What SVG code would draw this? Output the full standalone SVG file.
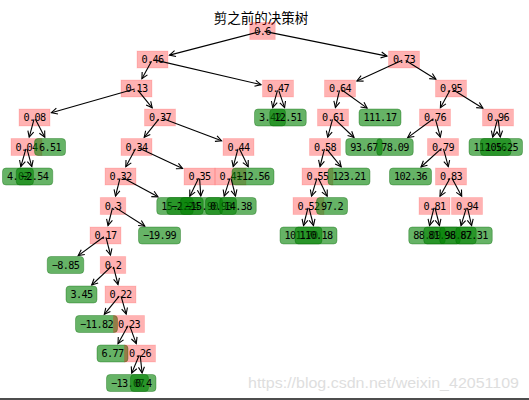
<svg xmlns="http://www.w3.org/2000/svg" width="529" height="400" viewBox="0 0 529 400">
<style>
.d rect{fill:#ff0000;fill-opacity:0.3;stroke:#ff0000;stroke-opacity:0.12;stroke-width:1}
.l rect{fill:#008000;fill-opacity:0.6;stroke:#006400;stroke-opacity:0.35;stroke-width:1}
text.t{font-family:"DejaVu Sans Mono","Liberation Mono",monospace;font-size:10.2px;letter-spacing:-0.6px;fill:#000;text-anchor:middle}
#edges line{stroke:#000;stroke-width:1.1;marker-end:url(#ah)}
</style>
<defs>
<marker id="ah" markerUnits="userSpaceOnUse" orient="auto" refX="0" refY="0" markerWidth="10" markerHeight="10" overflow="visible">
<path d="M-6,-3 L0,0 L-6,3" fill="none" stroke="#000" stroke-width="1.1"/>
</marker>
</defs>
<rect width="529" height="400" fill="#fff"/>
<text id="title" x="261" y="22.5" font-family="'Noto Sans CJK SC',sans-serif" font-size="13.5" text-anchor="middle" fill="#000">剪之前的决策树</text>
<g id="nodes">
<g id="n0" class="d" transform="translate(262.5,31)"><rect x="-12.75" y="-8.5" width="25.5" height="17"/><text class="t" y="3.6">0.6</text></g>
<g id="n1" class="d" transform="translate(152.5,59.5)"><rect x="-15.5" y="-8.5" width="31" height="17"/><text class="t" y="3.6">0.46</text></g>
<g id="n2" class="d" transform="translate(136.5,88.5)"><rect x="-15.5" y="-8.5" width="31" height="17"/><text class="t" y="3.6">0.13</text></g>
<g id="n3" class="d" transform="translate(34.5,117.5)"><rect x="-15.5" y="-8.5" width="31" height="17"/><text class="t" y="3.6">0.08</text></g>
<g id="n4" class="d" transform="translate(26.5,147)"><rect x="-15.5" y="-8.5" width="31" height="17"/><text class="t" y="3.6">0.04</text></g>
<g id="L1" class="l" transform="translate(18,176.5)"><rect x="-15.5" y="-8.5" width="31" height="17" rx="3.5"/><text class="t" y="3.6">4.02</text></g>
<g id="L2" class="l" transform="translate(34.5,176.5)"><rect x="-18.25" y="-8.5" width="36.5" height="17" rx="3.5"/><text class="t" y="3.6">−2.54</text></g>
<g id="L3" class="l" transform="translate(50,147)"><rect x="-15.5" y="-8.5" width="31" height="17" rx="3.5"/><text class="t" y="3.6">6.51</text></g>
<g id="n5" class="d" transform="translate(160,117.5)"><rect x="-15.5" y="-8.5" width="31" height="17"/><text class="t" y="3.6">0.37</text></g>
<g id="n6" class="d" transform="translate(136.5,147)"><rect x="-15.5" y="-8.5" width="31" height="17"/><text class="t" y="3.6">0.34</text></g>
<g id="n7" class="d" transform="translate(120.5,176.5)"><rect x="-15.5" y="-8.5" width="31" height="17"/><text class="t" y="3.6">0.32</text></g>
<g id="n8" class="d" transform="translate(113,206)"><rect x="-12.75" y="-8.5" width="25.5" height="17"/><text class="t" y="3.6">0.3</text></g>
<g id="n9" class="d" transform="translate(105.5,235.5)"><rect x="-15.5" y="-8.5" width="31" height="17"/><text class="t" y="3.6">0.17</text></g>
<g id="L4" class="l" transform="translate(65.5,265)"><rect x="-18.25" y="-8.5" width="36.5" height="17" rx="3.5"/><text class="t" y="3.6">−8.85</text></g>
<g id="n10" class="d" transform="translate(113,265)"><rect x="-12.75" y="-8.5" width="25.5" height="17"/><text class="t" y="3.6">0.2</text></g>
<g id="L5" class="l" transform="translate(81.5,294.5)"><rect x="-15.5" y="-8.5" width="31" height="17" rx="3.5"/><text class="t" y="3.6">3.45</text></g>
<g id="n11" class="d" transform="translate(120.5,294.5)"><rect x="-15.5" y="-8.5" width="31" height="17"/><text class="t" y="3.6">0.22</text></g>
<g id="L6" class="l" transform="translate(96.5,324)"><rect x="-21" y="-8.5" width="42" height="17" rx="3.5"/><text class="t" y="3.6">−11.82</text></g>
<g id="n12" class="d" transform="translate(129,324)"><rect x="-15.5" y="-8.5" width="31" height="17"/><text class="t" y="3.6">0.23</text></g>
<g id="L7" class="l" transform="translate(112.5,353.5)"><rect x="-15.5" y="-8.5" width="31" height="17" rx="3.5"/><text class="t" y="3.6">6.77</text></g>
<g id="n13" class="d" transform="translate(140,353.5)"><rect x="-15.5" y="-8.5" width="31" height="17"/><text class="t" y="3.6">0.26</text></g>
<g id="L8" class="l" transform="translate(127.5,383)"><rect x="-21" y="-8.5" width="42" height="17" rx="3.5"/><text class="t" y="3.6">−13.07</text></g>
<g id="L9" class="l" transform="translate(143.25,383)"><rect x="-12.75" y="-8.5" width="25.5" height="17" rx="3.5"/><text class="t" y="3.6">0.4</text></g>
<g id="L10" class="l" transform="translate(159.5,235.5)"><rect x="-21" y="-8.5" width="42" height="17" rx="3.5"/><text class="t" y="3.6">−19.99</text></g>
<g id="L11" class="l" transform="translate(175,206)"><rect x="-18.25" y="-8.5" width="36.5" height="17" rx="3.5"/><text class="t" y="3.6">15.12</text></g>
<g id="n14" class="d" transform="translate(199.5,176.5)"><rect x="-15.5" y="-8.5" width="31" height="17"/><text class="t" y="3.6">0.35</text></g>
<g id="L12" class="l" transform="translate(185,206)"><rect x="-18.25" y="-8.5" width="36.5" height="17" rx="3.5"/><text class="t" y="3.6">−2.24</text></g>
<g id="L13" class="l" transform="translate(201.5,206)"><rect x="-21" y="-8.5" width="42" height="17" rx="3.5"/><text class="t" y="3.6">−15.90</text></g>
<g id="n15" class="d" transform="translate(238.5,147)"><rect x="-15.5" y="-8.5" width="31" height="17"/><text class="t" y="3.6">0.44</text></g>
<g id="n16" class="d" transform="translate(230.5,176.5)"><rect x="-15.5" y="-8.5" width="31" height="17"/><text class="t" y="3.6">0.41</text></g>
<g id="L14" class="l" transform="translate(221,206)"><rect x="-15.5" y="-8.5" width="31" height="17" rx="3.5"/><text class="t" y="3.6">0.93</text></g>
<g id="L15" class="l" transform="translate(238,206)"><rect x="-18.25" y="-8.5" width="36.5" height="17" rx="3.5"/><text class="t" y="3.6">14.38</text></g>
<g id="L16" class="l" transform="translate(253,176.5)"><rect x="-21" y="-8.5" width="42" height="17" rx="3.5"/><text class="t" y="3.6">−12.56</text></g>
<g id="n17" class="d" transform="translate(278,88.5)"><rect x="-15.5" y="-8.5" width="31" height="17"/><text class="t" y="3.6">0.47</text></g>
<g id="L17" class="l" transform="translate(270,117.5)"><rect x="-15.5" y="-8.5" width="31" height="17" rx="3.5"/><text class="t" y="3.6">3.42</text></g>
<g id="L18" class="l" transform="translate(288,117.5)"><rect x="-18.25" y="-8.5" width="36.5" height="17" rx="3.5"/><text class="t" y="3.6">12.51</text></g>
<g id="n18" class="d" transform="translate(404,59.5)"><rect x="-15.5" y="-8.5" width="31" height="17"/><text class="t" y="3.6">0.73</text></g>
<g id="n19" class="d" transform="translate(340,88.5)"><rect x="-15.5" y="-8.5" width="31" height="17"/><text class="t" y="3.6">0.64</text></g>
<g id="n20" class="d" transform="translate(333,117.5)"><rect x="-15.5" y="-8.5" width="31" height="17"/><text class="t" y="3.6">0.61</text></g>
<g id="n21" class="d" transform="translate(325,147)"><rect x="-15.5" y="-8.5" width="31" height="17"/><text class="t" y="3.6">0.58</text></g>
<g id="n22" class="d" transform="translate(317.5,176.5)"><rect x="-15.5" y="-8.5" width="31" height="17"/><text class="t" y="3.6">0.55</text></g>
<g id="n23" class="d" transform="translate(308.5,206)"><rect x="-15.5" y="-8.5" width="31" height="17"/><text class="t" y="3.6">0.52</text></g>
<g id="L19" class="l" transform="translate(301,235.5)"><rect x="-21" y="-8.5" width="42" height="17" rx="3.5"/><text class="t" y="3.6">101.70</text></g>
<g id="L20" class="l" transform="translate(316,235.5)"><rect x="-21" y="-8.5" width="42" height="17" rx="3.5"/><text class="t" y="3.6">110.18</text></g>
<g id="L21" class="l" transform="translate(332,206)"><rect x="-15.5" y="-8.5" width="31" height="17" rx="3.5"/><text class="t" y="3.6">97.2</text></g>
<g id="L22" class="l" transform="translate(349,176.5)"><rect x="-21" y="-8.5" width="42" height="17" rx="3.5"/><text class="t" y="3.6">123.21</text></g>
<g id="L23" class="l" transform="translate(364,147)"><rect x="-18.25" y="-8.5" width="36.5" height="17" rx="3.5"/><text class="t" y="3.6">93.67</text></g>
<g id="L24" class="l" transform="translate(380,117.5)"><rect x="-21" y="-8.5" width="42" height="17" rx="3.5"/><text class="t" y="3.6">111.17</text></g>
<g id="n24" class="d" transform="translate(451,88.5)"><rect x="-15.5" y="-8.5" width="31" height="17"/><text class="t" y="3.6">0.95</text></g>
<g id="n25" class="d" transform="translate(435,117.5)"><rect x="-15.5" y="-8.5" width="31" height="17"/><text class="t" y="3.6">0.76</text></g>
<g id="L25" class="l" transform="translate(395,147)"><rect x="-18.25" y="-8.5" width="36.5" height="17" rx="3.5"/><text class="t" y="3.6">78.09</text></g>
<g id="n26" class="d" transform="translate(443,147)"><rect x="-15.5" y="-8.5" width="31" height="17"/><text class="t" y="3.6">0.79</text></g>
<g id="L26" class="l" transform="translate(410.5,176.5)"><rect x="-21" y="-8.5" width="42" height="17" rx="3.5"/><text class="t" y="3.6">102.36</text></g>
<g id="n27" class="d" transform="translate(451,176.5)"><rect x="-15.5" y="-8.5" width="31" height="17"/><text class="t" y="3.6">0.83</text></g>
<g id="n28" class="d" transform="translate(434.5,206)"><rect x="-15.5" y="-8.5" width="31" height="17"/><text class="t" y="3.6">0.81</text></g>
<g id="L27" class="l" transform="translate(427,235.5)"><rect x="-18.25" y="-8.5" width="36.5" height="17" rx="3.5"/><text class="t" y="3.6">88.09</text></g>
<g id="L28" class="l" transform="translate(442,235.5)"><rect x="-18.25" y="-8.5" width="36.5" height="17" rx="3.5"/><text class="t" y="3.6">81.96</text></g>
<g id="n29" class="d" transform="translate(467,206)"><rect x="-15.5" y="-8.5" width="31" height="17"/><text class="t" y="3.6">0.94</text></g>
<g id="L29" class="l" transform="translate(458,235.5)"><rect x="-18.25" y="-8.5" width="36.5" height="17" rx="3.5"/><text class="t" y="3.6">98.62</text></g>
<g id="L30" class="l" transform="translate(474,235.5)"><rect x="-18.25" y="-8.5" width="36.5" height="17" rx="3.5"/><text class="t" y="3.6">87.31</text></g>
<g id="n30" class="d" transform="translate(498,117.5)"><rect x="-15.5" y="-8.5" width="31" height="17"/><text class="t" y="3.6">0.96</text></g>
<g id="L31" class="l" transform="translate(490,147)"><rect x="-21" y="-8.5" width="42" height="17" rx="3.5"/><text class="t" y="3.6">112.16</text></g>
<g id="L32" class="l" transform="translate(501.5,147)"><rect x="-21" y="-8.5" width="42" height="17" rx="3.5"/><text class="t" y="3.6">105.25</text></g>
</g>
<g id="edges">
<line x1="260.6" y1="31.5" x2="169.5" y2="55.1"/>
<line x1="264.5" y1="31.4" x2="387" y2="56.1"/>
<line x1="151.5" y1="61.3" x2="141.9" y2="78.7"/>
<line x1="154.4" y1="59.9" x2="261" y2="84.6"/>
<line x1="134.6" y1="89" x2="51.4" y2="112.7"/>
<line x1="137.8" y1="90.1" x2="152.2" y2="107.8"/>
<line x1="277.5" y1="90.4" x2="272.7" y2="107.6"/>
<line x1="278.7" y1="90.4" x2="284.6" y2="107.6"/>
<line x1="34" y1="119.4" x2="29.2" y2="137.1"/>
<line x1="35.4" y1="119.3" x2="44.8" y2="137.2"/>
<line x1="25.9" y1="148.9" x2="20.8" y2="166.6"/>
<line x1="27" y1="148.9" x2="31.8" y2="166.6"/>
<line x1="158.8" y1="119.1" x2="144.2" y2="137.3"/>
<line x1="161.9" y1="118.2" x2="221.6" y2="140.7"/>
<line x1="135.5" y1="148.8" x2="125.8" y2="166.7"/>
<line x1="138.3" y1="147.8" x2="182.6" y2="168.6"/>
<line x1="120" y1="178.4" x2="115.5" y2="196"/>
<line x1="122.3" y1="177.5" x2="158" y2="196.8"/>
<line x1="112.5" y1="207.9" x2="108" y2="225.5"/>
<line x1="114.7" y1="207.1" x2="144.8" y2="226.2"/>
<line x1="103.9" y1="236.7" x2="78.2" y2="255.6"/>
<line x1="106" y1="237.4" x2="110.5" y2="255"/>
<line x1="111.5" y1="266.4" x2="91.7" y2="285"/>
<line x1="113.5" y1="266.9" x2="118" y2="284.5"/>
<line x1="119.2" y1="296.1" x2="104.3" y2="314.3"/>
<line x1="121.1" y1="296.4" x2="126.2" y2="314.1"/>
<line x1="128" y1="325.7" x2="118" y2="343.7"/>
<line x1="129.7" y1="325.9" x2="136.3" y2="343.6"/>
<line x1="139.2" y1="355.3" x2="131.7" y2="373.1"/>
<line x1="140.2" y1="355.5" x2="142.1" y2="373"/>
<line x1="198.6" y1="178.3" x2="189.8" y2="196.2"/>
<line x1="199.6" y1="178.5" x2="200.8" y2="196"/>
<line x1="238" y1="148.9" x2="233.2" y2="166.6"/>
<line x1="239.4" y1="148.8" x2="248.2" y2="166.7"/>
<line x1="229.9" y1="178.4" x2="224.2" y2="196.1"/>
<line x1="231" y1="178.4" x2="235.5" y2="196"/>
<line x1="402.2" y1="60.3" x2="356.9" y2="80.9"/>
<line x1="405.7" y1="60.5" x2="435.9" y2="79.2"/>
<line x1="339.5" y1="90.4" x2="335.4" y2="107.5"/>
<line x1="341.6" y1="89.7" x2="367.1" y2="108.1"/>
<line x1="450" y1="90.3" x2="440.4" y2="107.7"/>
<line x1="452.7" y1="89.5" x2="482.9" y2="108.2"/>
<line x1="332.5" y1="119.4" x2="327.7" y2="137.1"/>
<line x1="334.4" y1="118.9" x2="354" y2="137.5"/>
<line x1="433.4" y1="118.7" x2="407.7" y2="137.6"/>
<line x1="435.5" y1="119.4" x2="440.3" y2="137.1"/>
<line x1="497.5" y1="119.4" x2="492.7" y2="137.1"/>
<line x1="498.2" y1="119.5" x2="500.3" y2="137"/>
<line x1="324.5" y1="148.9" x2="320" y2="166.5"/>
<line x1="326.3" y1="148.6" x2="341.2" y2="166.8"/>
<line x1="441.5" y1="148.3" x2="421" y2="167"/>
<line x1="443.5" y1="148.9" x2="448.3" y2="166.6"/>
<line x1="316.9" y1="178.4" x2="311.5" y2="196.1"/>
<line x1="318.4" y1="178.3" x2="327.2" y2="196.2"/>
<line x1="450" y1="178.2" x2="440" y2="196.2"/>
<line x1="452" y1="178.3" x2="461.7" y2="196.2"/>
<line x1="308" y1="207.9" x2="303.5" y2="225.5"/>
<line x1="309" y1="207.9" x2="313.5" y2="225.5"/>
<line x1="434" y1="207.9" x2="429.5" y2="225.5"/>
<line x1="435" y1="207.9" x2="439.5" y2="225.5"/>
<line x1="466.4" y1="207.9" x2="461" y2="225.6"/>
<line x1="467.5" y1="207.9" x2="471.6" y2="225.5"/>
</g>
<text id="watermark" x="248" y="388" font-family="'Liberation Sans',Arial,sans-serif" font-size="14" textLength="271" lengthAdjust="spacingAndGlyphs" fill="#dedede">https://blog.csdn.net/weixin_42051109</text>
<rect id="bottom-bar" x="0" y="398" width="529" height="2" fill="#4d4d4d"/>
</svg>
